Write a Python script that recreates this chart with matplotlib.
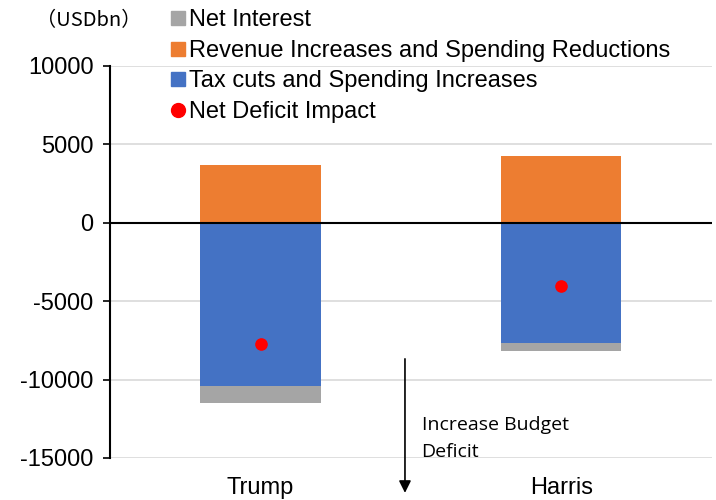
import matplotlib as mpl
mpl.use('Agg')
import matplotlib.pyplot as plt
from matplotlib.lines import Line2D

plt.rcParams['font.family'] = ['Liberation Sans', 'DejaVu Sans']

candidates = ['Trump', 'Harris']
revenue_up = [3700, 4250]          # Revenue Increases and Spending Reductions
tax_cuts = [-10400, -7650]         # Tax cuts and Spending Increases
net_interest = [-1100, -550]       # Net Interest
net_deficit = [-7750, -4000]       # Net Deficit Impact
yticks = [10000, 5000, 0, -5000, -10000, -15000]

c_gray = '#A5A5A5'
c_orange = '#ED7D31'
c_blue = '#4472C4'
c_red = '#FF0000'

fig = plt.figure(figsize=(7.16, 5.0), dpi=100)
ax = fig.add_axes([0.154, 0.084, 0.84, 0.784])

x = [0, 1]
w = 0.4
ax.bar(x, revenue_up, width=w, color=c_orange, zorder=2)
ax.bar(x, tax_cuts, width=w, color=c_blue, zorder=2)
ax.bar(x, net_interest, width=w, bottom=tax_cuts, color=c_gray, zorder=2)
ax.scatter(x, net_deficit, s=65, color=c_red, zorder=4)

ax.set_xlim(-0.5, 1.5)
ax.set_ylim(-15000, 10000)
ax.set_yticks(yticks)
ax.set_yticklabels([str(v) for v in yticks], fontsize=17)
ax.set_xticks(x)
ax.set_xticklabels(candidates, fontsize=17)
ax.tick_params(axis='x', length=0, pad=14)
ax.tick_params(axis='y', length=5, width=1.2, pad=7)
ax.yaxis.grid(True, color='#D9D9D9', linewidth=1.2, zorder=0)
ax.set_axisbelow(True)
ax.axhline(0, color='black', linewidth=1.5, zorder=3)

for s in ['top', 'right', 'bottom']:
    ax.spines[s].set_visible(False)
ax.spines['left'].set_linewidth(1.5)

# arrow: increase budget deficit
ax.annotate('', xy=(0.48, -17400), xytext=(0.48, -8500),
            arrowprops=dict(arrowstyle='-|>', color='black', lw=1.2,
                            mutation_scale=18),
            annotation_clip=False)
ax.text(0.535, -13750, 'Increase Budget\nDeficit', fontsize=14,
        family=['Open Sans', 'DejaVu Sans'], va='center', ha='left',
        linespacing=1.7)

fig.text(0.05, 0.958, '\uff08USDbn\uff09', fontsize=14.5,
         family=['Noto Sans CJK JP', 'DejaVu Sans'], va='center', ha='left')

handles = [
    Line2D([], [], marker='s', linestyle='none', markersize=10, color=c_gray),
    Line2D([], [], marker='s', linestyle='none', markersize=10, color=c_orange),
    Line2D([], [], marker='s', linestyle='none', markersize=10, color=c_blue),
    Line2D([], [], marker='o', linestyle='none', markersize=10, color=c_red),
]
labels = ['Net Interest', 'Revenue Increases and Spending Reductions',
          'Tax cuts and Spending Increases', 'Net Deficit Impact']
fig.legend(handles, labels, loc='upper left', bbox_to_anchor=(0.225, 1.0),
           frameon=False, fontsize=17, handlelength=0.6, handletextpad=0.2,
           labelspacing=0.36, borderaxespad=0)

fig.savefig('out.png', dpi=100)
plt.close(fig)
